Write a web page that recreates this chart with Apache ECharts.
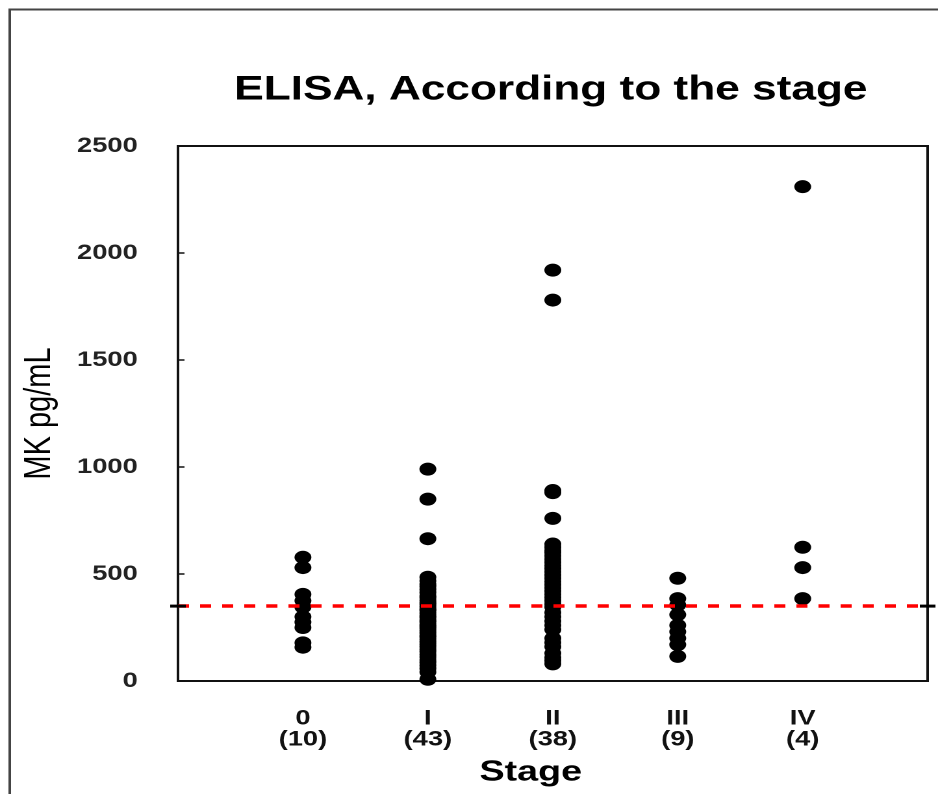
<!DOCTYPE html>
<html>
<head>
<meta charset="utf-8">
<script src="https://cdn.jsdelivr.net/npm/echarts@6/dist/echarts.min.js"></script>
<style>
html,body{margin:0;padding:0;background:#fff;overflow:hidden}
#c{width:722px;height:794px;transform:scaleX(1.2992);transform-origin:0 0}
</style>
</head>
<body>
<div id="c"></div>
<script>
const stageNames = ['0', 'I', 'II', 'III', 'IV'];
const stageCounts = ['(10)', '(43)', '(38)', '(9)', '(4)'];
const stage0 = [578, 530, 405, 375, 345, 300, 275, 250, 178, 158];
const stageI = [990, 850, 665, 485, 468, 452, 441, 427, 413, 398, 389, 377, 366, 358, 347, 336, 329, 317, 305, 296, 284, 275, 263, 254, 246, 235, 224, 213, 205, 194, 182, 171, 160, 148, 137, 124, 112, 98, 86, 72, 58, 42, 8];
const stageII = [1920, 1780, 890, 880, 760, 640, 625, 610, 600, 585, 570, 555, 540, 525, 510, 495, 480, 465, 450, 435, 420, 405, 390, 375, 360, 345, 320, 300, 280, 260, 240, 200, 180, 160, 130, 110, 95, 80];
const stageIII = [480, 385, 355, 310, 260, 230, 200, 170, 115];
const stageIV = [2310, 625, 530, 385];
const cutoff = 350;
const yTicks = [0, 500, 1000, 1500, 2000, 2500];

const groups = [stage0, stageI, stageII, stageIII, stageIV];
const points = [];
groups.forEach((g, i) => g.forEach(v => points.push([i + 1, v])));

const FONT = 'Liberation Sans';
const chart = echarts.init(document.getElementById('c'), null, {renderer: 'canvas', devicePixelRatio: 2});
chart.setOption({
  animation: false,
  backgroundColor: '#fff',
  graphic: [{
    type: 'rect', left: 5, top: 7, z: -1,
    shape: {width: 1000, height: 1000},
    style: {fill: 'none', stroke: '#444', lineWidth: 2}
  }],
  title: {
    text: 'ELISA, According to the stage',
    left: 419, top: 68, textAlign: 'center',
    textStyle: {fontFamily: FONT, fontSize: 34, fontWeight: 'bold', color: '#000'}
  },
  grid: {left: 137, right: 8, top: 146, bottom: 113, show: true, borderColor: '#111', borderWidth: 2, backgroundColor: 'transparent'},
  xAxis: {
    type: 'value', min: 0, max: 6, interval: 1,
    name: 'Stage', nameLocation: 'middle', nameGap: 77,
    nameTextStyle: {fontFamily: FONT, fontSize: 29, fontWeight: 'bold', color: '#000', padding: [0, 34, 0, 0]},
    axisLine: {show: false}, axisTick: {show: false}, splitLine: {show: false},
    axisLabel: {
      margin: 27,
      fontFamily: FONT, fontSize: 21, fontWeight: 'bold', color: '#111', lineHeight: 21,
      formatter: v => (v >= 1 && v <= 5) ? stageNames[v - 1] + '\n' + stageCounts[v - 1] : ''
    }
  },
  yAxis: {
    type: 'value', min: 0, max: 2500, interval: 500,
    name: 'MK pg/mL', nameLocation: 'middle', nameGap: 92, nameRotate: 90,
    nameTextStyle: {fontFamily: FONT, fontSize: 29, color: '#000'},
    axisLine: {show: false},
    axisTick: {show: true, inside: true, length: 5, lineStyle: {color: '#111', width: 1.5}},
    splitLine: {show: false},
    axisLabel: {
      margin: 31, fontFamily: FONT, fontSize: 21, fontWeight: 'bold', color: '#222',
      formatter: v => yTicks.includes(v) ? String(v) : ''
    }
  },
  series: [{
    type: 'scatter',
    data: points,
    symbol: 'circle',
    symbolSize: 13,
    itemStyle: {color: '#000', opacity: 1},
    z: 3,
    markLine: {
      silent: true, symbol: 'none', label: {show: false},
      lineStyle: {color: '#ff0000', type: [8.5, 8.5], width: 3.5},
      data: [{yAxis: cutoff}]
    }
  }, {
    type: 'custom',
    data: [[0, cutoff], [6, cutoff]],
    clip: false,
    z: 5,
    renderItem: (params, api) => {
      const p = api.coord([api.value(0), api.value(1)]);
      return {type: 'line', shape: {x1: p[0] - 6, y1: p[1], x2: p[0] + 6, y2: p[1]}, style: {stroke: '#000', lineWidth: 3}};
    }
  }]
});
</script>
</body>
</html>
